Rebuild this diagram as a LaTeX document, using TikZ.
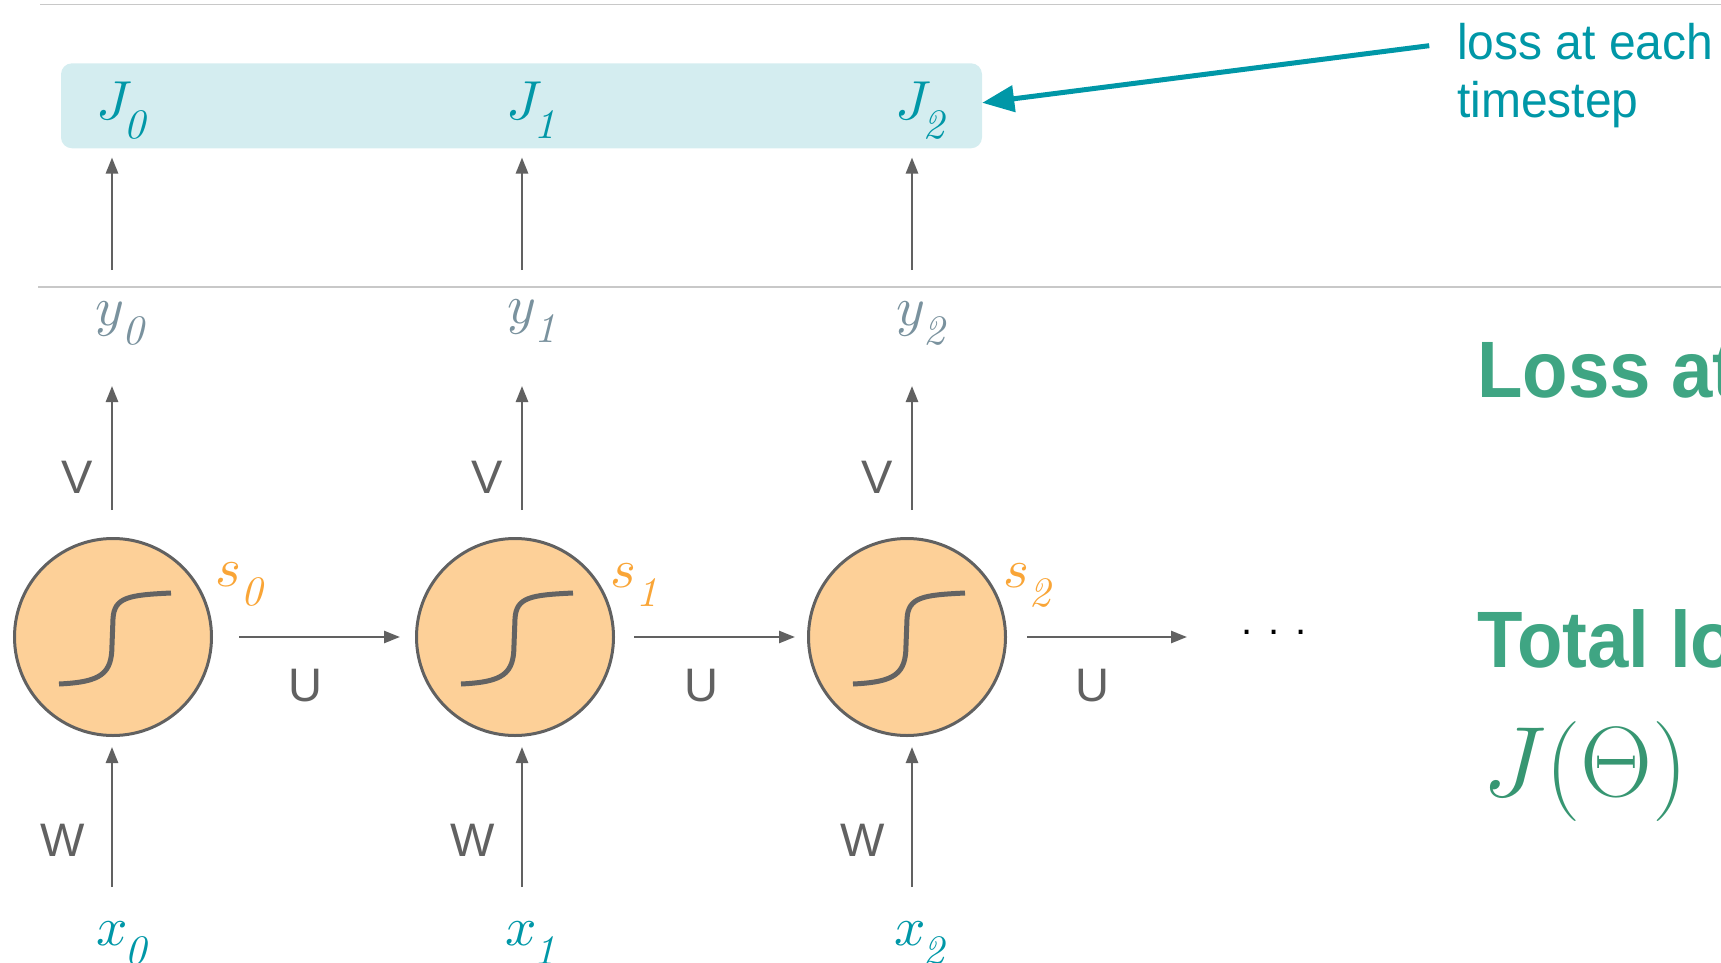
\RequirePackage{fix-cm}
\documentclass[tikz,border=0pt]{standalone}
\usepackage{fontspec}
\usetikzlibrary{arrows.meta}
\newfontfamily\labfont{Liberation Sans}
\newfontfamily\notefont[FakeStretch=0.96]{Liberation Sans}
\newfontfamily\headfont[FakeStretch=0.93]{Liberation Sans}
\font\mifont=cmmi10 at 55pt
\font\sbfont=cmti10 at 42pt
\definecolor{cteal}{HTML}{0097A7}
\definecolor{cslate}{HTML}{7A929E}
\definecolor{cgray}{HTML}{616161}
\definecolor{csig}{HTML}{636363}
\definecolor{crule}{HTML}{C8C8C8}
\definecolor{cbox}{HTML}{D4EDF0}
\definecolor{cpeach}{HTML}{FDD098}
\definecolor{corange}{HTML}{F9A537}
\definecolor{cgreen}{HTML}{3FA583}
\definecolor{cmathg}{HTML}{379672}
\newcommand\sublab[3][0pt]{{\mifont #2}\kern#1\raisebox{-19pt}{\sbfont #3}}
\begin{document}
\begin{tikzpicture}[x=1pt,y=-1pt,
  arr/.style={draw=cgray, line width=2.5pt, -{Triangle[length=16pt,width=12pt]}},
  larr/.style={draw=cteal, line width=5pt, -{Triangle[length=32pt,width=26pt]}},
  rulel/.style={draw=crule, line width=1.5pt},
  cell/.style={circle, draw=cgray, line width=3pt, fill=cpeach, minimum size=197pt, inner sep=0pt},
  mlbl/.style={anchor=base west, inner sep=0pt},
  wlbl/.style={anchor=base, inner sep=0pt, text=cgray, font=\labfont\fontsize{47}{47}\selectfont},
  sig/.style={draw=csig, line width=5pt},
  head/.style={anchor=base west, inner sep=0pt, text=cgreen, font=\headfont\bfseries\fontsize{80}{80}\selectfont}]
\useasboundingbox (0,0) rectangle (1721,963);
\clip (0,0) rectangle (1721,963);
% rules
\draw[rulel] (40,4.5) -- (1721,4.5);
\draw[rulel] (38,287) -- (1721,287);
% loss box
\node[fill=cbox, rounded corners=11pt, minimum width=921pt, minimum height=85pt, inner sep=0pt] (lossbox) at (521.5,105.8) {};
\node[mlbl, text=cteal] (J0) at (96,120) {\sublab[-3pt]{J}{0}};
\node[mlbl, text=cteal] (J1) at (506,120) {\sublab[-3pt]{J}{1}};
\node[mlbl, text=cteal] (J2) at (895,120) {\sublab[-3pt]{J}{2}};
% outputs
\node[mlbl, text=cslate] (y0) at (95,325) {\sublab[0pt]{y}{0}};
\node[mlbl, text=cslate] (y1) at (507,323) {\sublab[0pt]{y}{1}};
\node[mlbl, text=cslate] (y2) at (896,325) {\sublab[0pt]{y}{2}};
% cells
\node[cell] (c0) at (113,637) {};
\node[cell] (c1) at (515,637) {};
\node[cell] (c2) at (907,637) {};
\foreach \c in {c0,c1,c2}{
  \begin{scope}[shift={(\c.center)}]
    \draw[sig] (-54,47) .. controls (-12,45) and (-1,37) .. (-1,8) -- (0,-18) .. controls (1,-40) and (16,-42) .. (58,-44);
  \end{scope}
}
% state labels
\node[mlbl, text=corange] (s0) at (215,586) {\sublab[0pt]{s}{0}};
\node[mlbl, text=corange] (s1) at (610,587) {\sublab[0pt]{s}{1}};
\node[mlbl, text=corange] (s2) at (1003,587) {\sublab[0pt]{s}{2}};
% inputs
\node[mlbl, text=cteal] (x0) at (96,945) {\sublab[-3pt]{x}{0}};
\node[mlbl, text=cteal] (x1) at (505,945) {\sublab[-3pt]{x}{1}};
\node[mlbl, text=cteal] (x2) at (894,945) {\sublab[-3pt]{x}{2}};
% column coordinates
\coordinate (ja0) at (112,270); \coordinate (ja1) at (522,270); \coordinate (ja2) at (912,270);
\coordinate (va0) at (112,386); \coordinate (va1) at (522,386); \coordinate (va2) at (912,386);
\coordinate (wa0) at (112,887); \coordinate (wa1) at (522,887); \coordinate (wa2) at (912,887);
\foreach \i in {0,1,2}{
  \draw[arr, shorten >=9pt] (ja\i) -- (ja\i |- lossbox.south);
  \draw[arr, shorten <=27pt] (c\i.north -| va\i) -- (va\i);
  \draw[arr, shorten >=10pt] (wa\i) -- (c\i.south -| wa\i);
}
% dots
\node[anchor=base west, inner sep=0pt, font=\labfont\fontsize{40}{40}\selectfont] (dots) at (1241,634) {.\kern16pt.\kern16pt.};
% recurrent arrows
\draw[arr, shorten <=26pt, shorten >=15pt] (c0.east) -- (c1.west);
\draw[arr, shorten <=19pt, shorten >=12pt] (c1.east) -- (c2.west);
\draw[arr, shorten <=20pt, shorten >=54pt] (c2.east) -- (dots.west |- c2.east);
% weight labels
\node[wlbl] (V0) at (77,493) {V};
\node[wlbl] (V1) at (487,493) {V};
\node[wlbl] (V2) at (877,493) {V};
\node[wlbl] (W0) at (62.5,856) {W};
\node[wlbl] (W1) at (473,856) {W};
\node[wlbl] (W2) at (863,856) {W};
\node[wlbl] (U0) at (305,701) {U};
\node[wlbl] (U1) at (701,701) {U};
\node[wlbl] (U2) at (1092,701) {U};
% note
\node[anchor=base west, inner sep=0pt, text=cteal, font=\notefont\fontsize{50}{50}\selectfont] (note1) at (1457,60) {loss at each};
\node[anchor=base west, inner sep=0pt, text=cteal, font=\notefont\fontsize{50}{50}\selectfont] (note2) at (1457,118) {timestep};
\draw[larr, shorten <=28pt] (note1.west) -- ([yshift=3pt]lossbox.east);
% right side texts
\node[head] (h1) at (1477,397) {Loss at};
\node[head] (h2) at (1477,667) {Total lo};
\node[anchor=base west, inner sep=0pt, text=cmathg, font=\fontsize{100}{100}\selectfont] (jt) at (1482,796) {$J(\Theta)$};
\end{tikzpicture}
\end{document}
